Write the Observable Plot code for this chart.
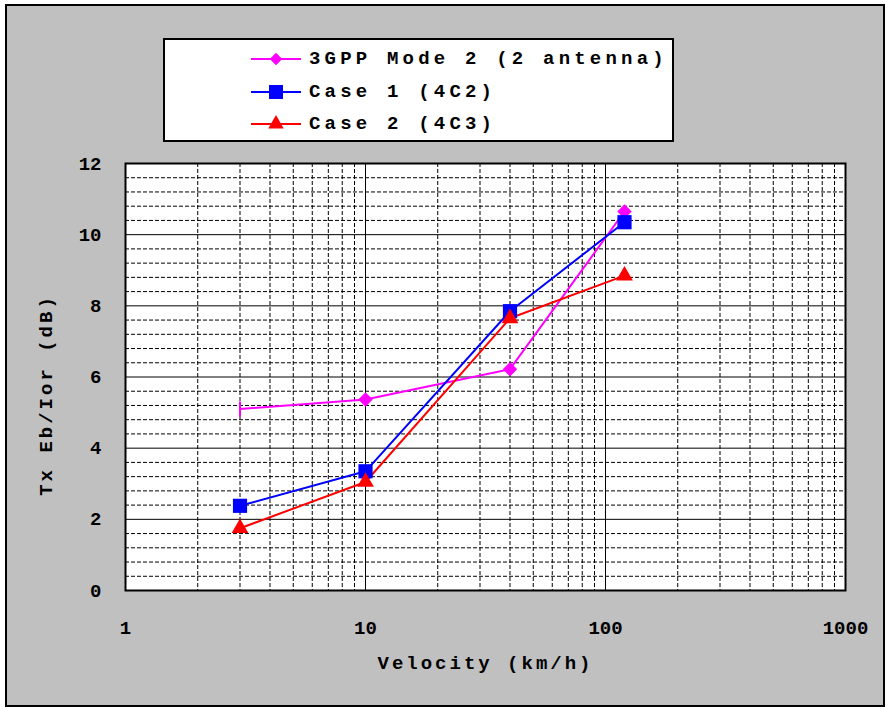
<!DOCTYPE html>
<html>
<head>
<meta charset="utf-8">
<script src="https://cdn.jsdelivr.net/npm/d3@7"></script>
<script src="https://cdn.jsdelivr.net/npm/@observablehq/plot@0.6"></script>
<style>
  html, body { margin: 0; padding: 0; background: #ffffff; }
  #wrap { position: relative; width: 888px; height: 707px; overflow: hidden; }
  #border { position: absolute; left: 5px; top: 4px; width: 880px; height: 703px; box-sizing: border-box; border: 2px solid #000; background: #c0c0c0; }
  #chart { position: absolute; left: 0; top: 0; }
  #legend { position: absolute; left: 163px; top: 38px; width: 511px; height: 104px; box-sizing: border-box; border: 2px solid #000; background: #fff;
            font-family: "Liberation Mono", "DejaVu Sans Mono", monospace; font-weight: bold; font-size: 19px; letter-spacing: 4.2px; color: #000; }
  .row { position: absolute; left: 86px; height: 24px; display: flex; align-items: center; white-space: nowrap; }
  .row svg { margin-right: 6px; }
</style>
</head>
<body>
<div id="wrap">
  <div id="border"></div>
  <div id="chart"></div>
  <div id="legend"></div>
</div>
<script>
// ---- data ----
const velocity = [3, 10, 40, 120];
const mode2 = [5.1, 5.37, 6.22, 10.65];
const case1 = [2.38, 3.35, 7.85, 10.35];
const case2 = [1.75, 3.05, 7.65, 8.85];
const seriesNames = ["3GPP Mode 2 (2 antenna)", "Case 1 (4C2)", "Case 2 (4C3)"];
const seriesColors = ["#ff00ff", "#0000ff", "#ff0000"];
const xTicks = [1, 10, 100, 1000];
const yTicks = [0, 2, 4, 6, 8, 10, 12];
const xLabel = "Velocity (km/h)";
const yLabel = "Tx Eb/Ior (dB)";

// ---- derived ----
const rows = [];
[mode2, case1, case2].forEach((vals, i) => {
  vals.forEach((v, j) => rows.push({series: seriesNames[i], x: velocity[j], y: v, idx: j}));
});
const xMinor = [];
for (const d of [1, 10, 100]) for (let k = 2; k <= 9; k++) xMinor.push(d * k);
const xMajor = [10, 100];
const yMinor = d3.range(0, 12.001, 0.4).filter(v => Math.abs(v / 2 - Math.round(v / 2)) > 1e-6);
const yMajor = [2, 4, 6, 8, 10];

const vline = { draw(context, size) { const h = 7.5; context.moveTo(0, -h); context.lineTo(0, h); } };

const font = '"Liberation Mono", "DejaVu Sans Mono", monospace';
const colorOf = Object.fromEntries(seriesNames.map((s, i) => [s, seriesColors[i]]));

const chart = Plot.plot({
  width: 888,
  height: 707,
  marginLeft: 125,
  marginRight: 43,
  marginTop: 163,
  marginBottom: 117,
  x: { type: "log", domain: [1, 1000] },
  y: { domain: [0, 12] },
  style: { background: "transparent", fontFamily: font, fontWeight: "bold", fontSize: "19px", color: "#000" },
  marks: [
    Plot.frame({ fill: "#fff", stroke: "none" }),
    Plot.ruleY(yMinor, { stroke: "#000", strokeWidth: 1, strokeDasharray: "4,2" }),
    Plot.ruleX(xMinor, { stroke: "#000", strokeWidth: 1, strokeDasharray: "4,2" }),
    Plot.ruleY(yMajor, { stroke: "#000", strokeWidth: 1 }),
    Plot.ruleX(xMajor, { stroke: "#000", strokeWidth: 1 }),
    Plot.frame({ stroke: "#000", strokeWidth: 2 }),
    Plot.axisX({ ticks: xTicks, tickFormat: d => String(d), tickSize: 0, tickPadding: 30, label: null }),
    Plot.axisY({ ticks: yTicks, tickFormat: d => String(d), tickSize: 0, tickPadding: 24, label: null }),
    Plot.line(rows, { x: "x", y: "y", z: "series", stroke: d => colorOf[d.series], strokeWidth: 2 }),
    Plot.dot(rows.filter(d => d.series === seriesNames[0] && d.idx > 0), { x: "x", y: "y", symbol: "diamond2", r: 6.5, fill: seriesColors[0], stroke: "none" }),
    Plot.dot(rows.filter(d => d.series === seriesNames[0] && d.idx === 0), { x: "x", y: "y", symbol: vline, r: 5, stroke: seriesColors[0], strokeWidth: 2, fill: "none" }),
    Plot.dot(rows.filter(d => d.series === seriesNames[1]), { x: "x", y: "y", symbol: "square", r: 8, fill: seriesColors[1], stroke: "none" }),
    Plot.dot(rows.filter(d => d.series === seriesNames[2]), { x: "x", y: "y", symbol: "triangle2", r: 8, fill: seriesColors[2], stroke: "none" }),
    Plot.text([xLabel], { frameAnchor: "bottom", dy: 78, fontSize: 19, fontWeight: "bold" }),
    Plot.text([yLabel], { frameAnchor: "left", textAnchor: "middle", dx: -80, dy: 18, rotate: -90, fontSize: 19, fontWeight: "bold" })
  ]
});
d3.select(chart).selectAll("text")
  .filter(function () { return this.textContent === xLabel || this.textContent === yLabel; })
  .style("letter-spacing", "3px");
document.getElementById("chart").appendChild(chart);

// ---- legend ----
const legend = d3.select("#legend");
const symbols = ["diamond", "square", "triangle"];
seriesNames.forEach((name, i) => {
  const row = legend.append("div").attr("class", "row").style("top", (7 + i * 32.5) + "px");
  const svg = row.append("svg").attr("width", 52).attr("height", 24);
  svg.append("line").attr("x1", 0).attr("x2", 50).attr("y1", 12).attr("y2", 12).attr("stroke", seriesColors[i]).attr("stroke-width", 2);
  let p;
  if (symbols[i] === "diamond") p = d3.symbol(d3.symbolDiamond2, 100)();
  else if (symbols[i] === "square") p = d3.symbol(d3.symbolSquare, 196)();
  else p = d3.symbol(d3.symbolTriangle2, 170)();
  svg.append("path").attr("d", p).attr("transform", "translate(25,12)").attr("fill", seriesColors[i]);
  row.append("span").text(name);
});
</script>
</body>
</html>
